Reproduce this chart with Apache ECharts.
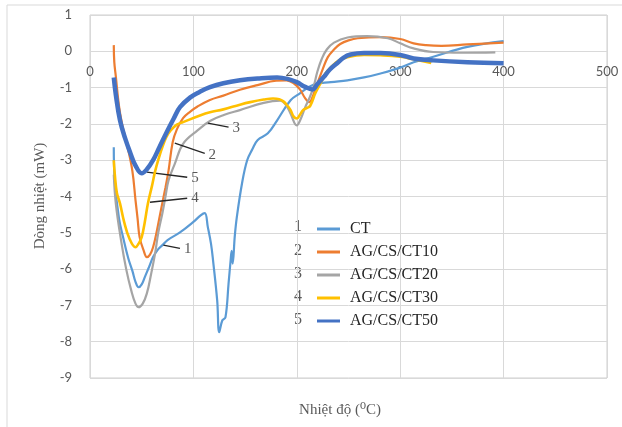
<!DOCTYPE html>
<html>
<head>
<meta charset="utf-8">
<script src="https://cdn.jsdelivr.net/npm/echarts@6/dist/echarts.min.js"></script>
<style>
html,body{margin:0;padding:0;background:#fff;}
#chart{width:622px;height:427px;}
</style>
</head>
<body>
<div id="chart"></div>
<script>
// ---- data (temperature °C, heat flow mW) ----
const seriesNames = ['CT', 'AG/CS/CT10', 'AG/CS/CT20', 'AG/CS/CT30', 'AG/CS/CT50'];
const xTicks = [0, 100, 200, 300, 400, 500];
const yTicks = [-9, -8, -7, -6, -5, -4, -3, -2, -1, 0, 1];

const ct = [[23,-2.64],[24,-3.6],[28,-4.6],[32,-5.12],[37,-5.7],[41,-6.05],[44,-6.35],[47,-6.5],[50,-6.42],[53,-6.22],[57,-5.95],[61,-5.67],[66,-5.45],[70,-5.34],[75,-5.2],[87,-4.99],[100,-4.7],[107,-4.52],[111,-4.46],[114,-4.85],[117,-5.3],[119,-5.76],[123,-6.86],[125,-7.74],[128,-7.41],[131,-7.33],[134,-6.4],[136,-5.76],[137,-5.5],[138,-5.85],[140,-5.1],[142,-4.57],[147,-3.64],[152,-3.0],[157,-2.7],[162,-2.45],[172,-2.26],[181,-1.9],[194,-1.35],[203,-1.16],[216,-0.92],[233,-0.85],[249,-0.8],[265,-0.72],[281,-0.61],[300,-0.45],[313,-0.3],[332,-0.15],[365,0.12],[400,0.28]];

const ct10 = [[23,0.17],[23.5,-0.3],[25,-0.7],[28,-1.5],[31,-2.0],[36,-2.6],[41,-3.3],[44,-4.1],[46,-4.6],[48,-5.12],[52,-5.5],[55,-5.67],[58,-5.6],[61,-5.4],[65,-4.9],[68,-4.46],[73,-3.75],[76,-3.28],[80,-2.5],[84,-2.15],[90,-1.84],[97,-1.66],[104,-1.52],[116,-1.34],[129,-1.22],[145,-1.06],[162,-0.93],[180,-0.81],[190,-0.8],[197,-0.88],[203,-1.05],[208,-1.29],[212,-1.4],[216,-1.2],[220,-0.88],[225,-0.5],[230,-0.16],[236,0.05],[242,0.2],[250,0.3],[259,0.36],[281,0.39],[300,0.34],[313,0.22],[325,0.17],[340,0.15],[365,0.19],[400,0.24]];

const ct20 = [[23,-3.4],[25,-4.2],[30,-5.2],[35,-6.0],[40,-6.6],[44,-6.95],[47,-7.05],[51,-6.95],[55,-6.67],[59,-6.15],[63,-5.56],[66,-5.0],[70,-4.46],[73,-4.0],[76,-3.55],[82,-3.1],[90,-2.55],[104,-2.18],[116,-1.92],[130,-1.75],[145,-1.62],[168,-1.42],[184,-1.36],[190,-1.5],[194,-1.72],[200,-2.04],[204,-1.85],[208,-1.55],[212,-1.3],[216,-1.0],[220,-0.55],[224,-0.22],[229,0.05],[236,0.24],[249,0.38],[268,0.42],[288,0.36],[300,0.22],[313,0.08],[332,-0.02],[360,-0.04],[392,-0.03]];

const ct30 = [[23,-3.0],[24,-3.4],[26,-3.9],[29,-4.19],[33,-4.7],[38,-5.15],[44,-5.4],[47,-5.3],[50,-5.12],[53,-4.7],[56,-4.19],[60,-3.7],[63,-3.3],[67,-2.9],[70,-2.64],[74,-2.35],[78,-2.18],[84,-2.02],[90,-1.95],[107,-1.76],[116,-1.68],[129,-1.6],[145,-1.47],[155,-1.4],[168,-1.33],[177,-1.3],[183,-1.32],[187,-1.38],[191,-1.5],[194,-1.62],[197,-1.8],[200,-1.85],[203,-1.75],[206,-1.62],[210,-1.56],[213,-1.5],[218,-1.15],[223,-0.88],[228,-0.6],[233,-0.44],[240,-0.26],[249,-0.16],[265,-0.1],[281,-0.11],[300,-0.15],[313,-0.22],[330,-0.32]];

const ct50 = [[23,-0.72],[25,-1.2],[29,-1.9],[34,-2.4],[39,-2.8],[44,-3.15],[50,-3.36],[55,-3.25],[61,-3.0],[67,-2.65],[75,-2.18],[81,-1.85],[87,-1.54],[97,-1.27],[106,-1.12],[116,-0.99],[129,-0.88],[145,-0.8],[162,-0.75],[181,-0.72],[191,-0.76],[200,-0.85],[208,-0.98],[215,-1.05],[220,-0.9],[226,-0.71],[232,-0.5],[239,-0.33],[245,-0.18],[252,-0.09],[265,-0.05],[281,-0.05],[300,-0.1],[313,-0.2],[332,-0.25],[365,-0.3],[400,-0.33]];

// annotation leader lines (data coords): [from, to, label]
const leaders = [
  [[71,-5.34],[87,-5.43],'1'],
  [[82,-2.53],[111,-2.81],'2'],
  [[114,-1.98],[134,-2.09],'3'],
  [[58,-4.16],[94,-4.05],'4'],
  [[55,-3.33],[94,-3.47],'5']
];

const colors = ['#5B9BD5', '#ED7D31', '#A5A5A5', '#FFC000', '#4472C4'];
const widths = [2.2, 2.2, 2.2, 2.6, 4.5];
const allData = [ct, ct10, ct20, ct30, ct50];

const chart = echarts.init(document.getElementById('chart'));
const serif = '"Liberation Serif", "DejaVu Serif", serif';
const sans = 'Lato, "Open Sans", sans-serif';

const series = allData.map((d, i) => ({
  name: seriesNames[i],
  type: 'line',
  data: d,
  showSymbol: false,
  smooth: 0.4,
  lineStyle: { color: colors[i], width: widths[i] },
  itemStyle: { color: colors[i] },
  z: 2 + i,
  animation: false,
  markLine: {
    silent: true,
    symbol: ['none', 'none'],
    animation: false,
    lineStyle: { color: '#262626', width: 1.4, type: 'solid' },
    label: { show: true, position: 'end', distance: 4, formatter: leaders[i][2],
      fontFamily: serif, fontSize: 15, color: '#595959' },
    data: [[{ coord: leaders[i][0] }, { coord: leaders[i][1] }]]
  }
}));

const gridTop = 15, gridBottom = 49, chartH = 427;
const plotH = chartH - gridTop - gridBottom;
// distance from the bottom edge of the plot to the y = 0 line
const zeroOffset = plotH * (0 - yTicks[0]) / (yTicks[yTicks.length - 1] - yTicks[0]);

const legendRowY0 = 227, legendRowGap = 23.3;
const graphics = [
  { type: 'rect', shape: { x: 7, y: 5, width: 640, height: 440 }, style: { fill: 'none', stroke: '#d9d9d9', lineWidth: 1 }, silent: true },
  { type: 'text', x: 340, y: 410, style: { text: 'Nhiệt độ (⁰C)', font: '15px ' + serif, fill: '#595959', textAlign: 'center', textVerticalAlign: 'middle' } },
  { type: 'text', x: 40, y: 196, rotation: Math.PI / 2, style: { text: 'Dòng nhiệt (mW)', font: '15px ' + serif, fill: '#595959', textAlign: 'center', textVerticalAlign: 'middle' } }
];
seriesNames.forEach((n, i) => {
  graphics.push({ type: 'text', x: 298, y: legendRowY0 + legendRowGap * i,
    style: { text: String(i + 1), font: '16px ' + serif, fill: '#595959', textAlign: 'center', textVerticalAlign: 'middle' } });
});

chart.setOption({
  backgroundColor: '#fff',
  animation: false,
  color: colors,
  grid: { left: 90, right: 15, top: gridTop, bottom: gridBottom, show: true, borderColor: '#cfcfcf', borderWidth: 1 },
  xAxis: {
    type: 'value', min: xTicks[0], max: xTicks[xTicks.length - 1], interval: 100,
    position: 'bottom', offset: -zeroOffset,
    axisLine: { show: false, onZero: false },
    axisTick: { show: false },
    splitLine: { show: true, lineStyle: { color: '#d9d9d9', width: 1 } },
    axisLabel: { color: '#595959', fontFamily: sans, fontSize: 13, margin: 14, showMinLabel: true, showMaxLabel: true }
  },
  yAxis: {
    type: 'value', min: yTicks[0], max: yTicks[yTicks.length - 1], interval: 1,
    axisLine: { show: false },
    axisTick: { show: false },
    splitLine: { show: true, lineStyle: { color: '#d9d9d9', width: 1 } },
    axisLabel: { color: '#595959', fontFamily: sans, fontSize: 13, margin: 18 }
  },
  legend: {
    orient: 'vertical', left: 312, top: legendRowY0 - 11,
    itemWidth: 23, itemHeight: 3, itemGap: 7,
    icon: 'rect',
    data: seriesNames,
    textStyle: { fontFamily: serif, fontSize: 16, color: '#262626', lineHeight: 16, padding: [0, 0, 0, 5] }
  },
  graphic: graphics,
  series: series
});
</script>
</body>
</html>
